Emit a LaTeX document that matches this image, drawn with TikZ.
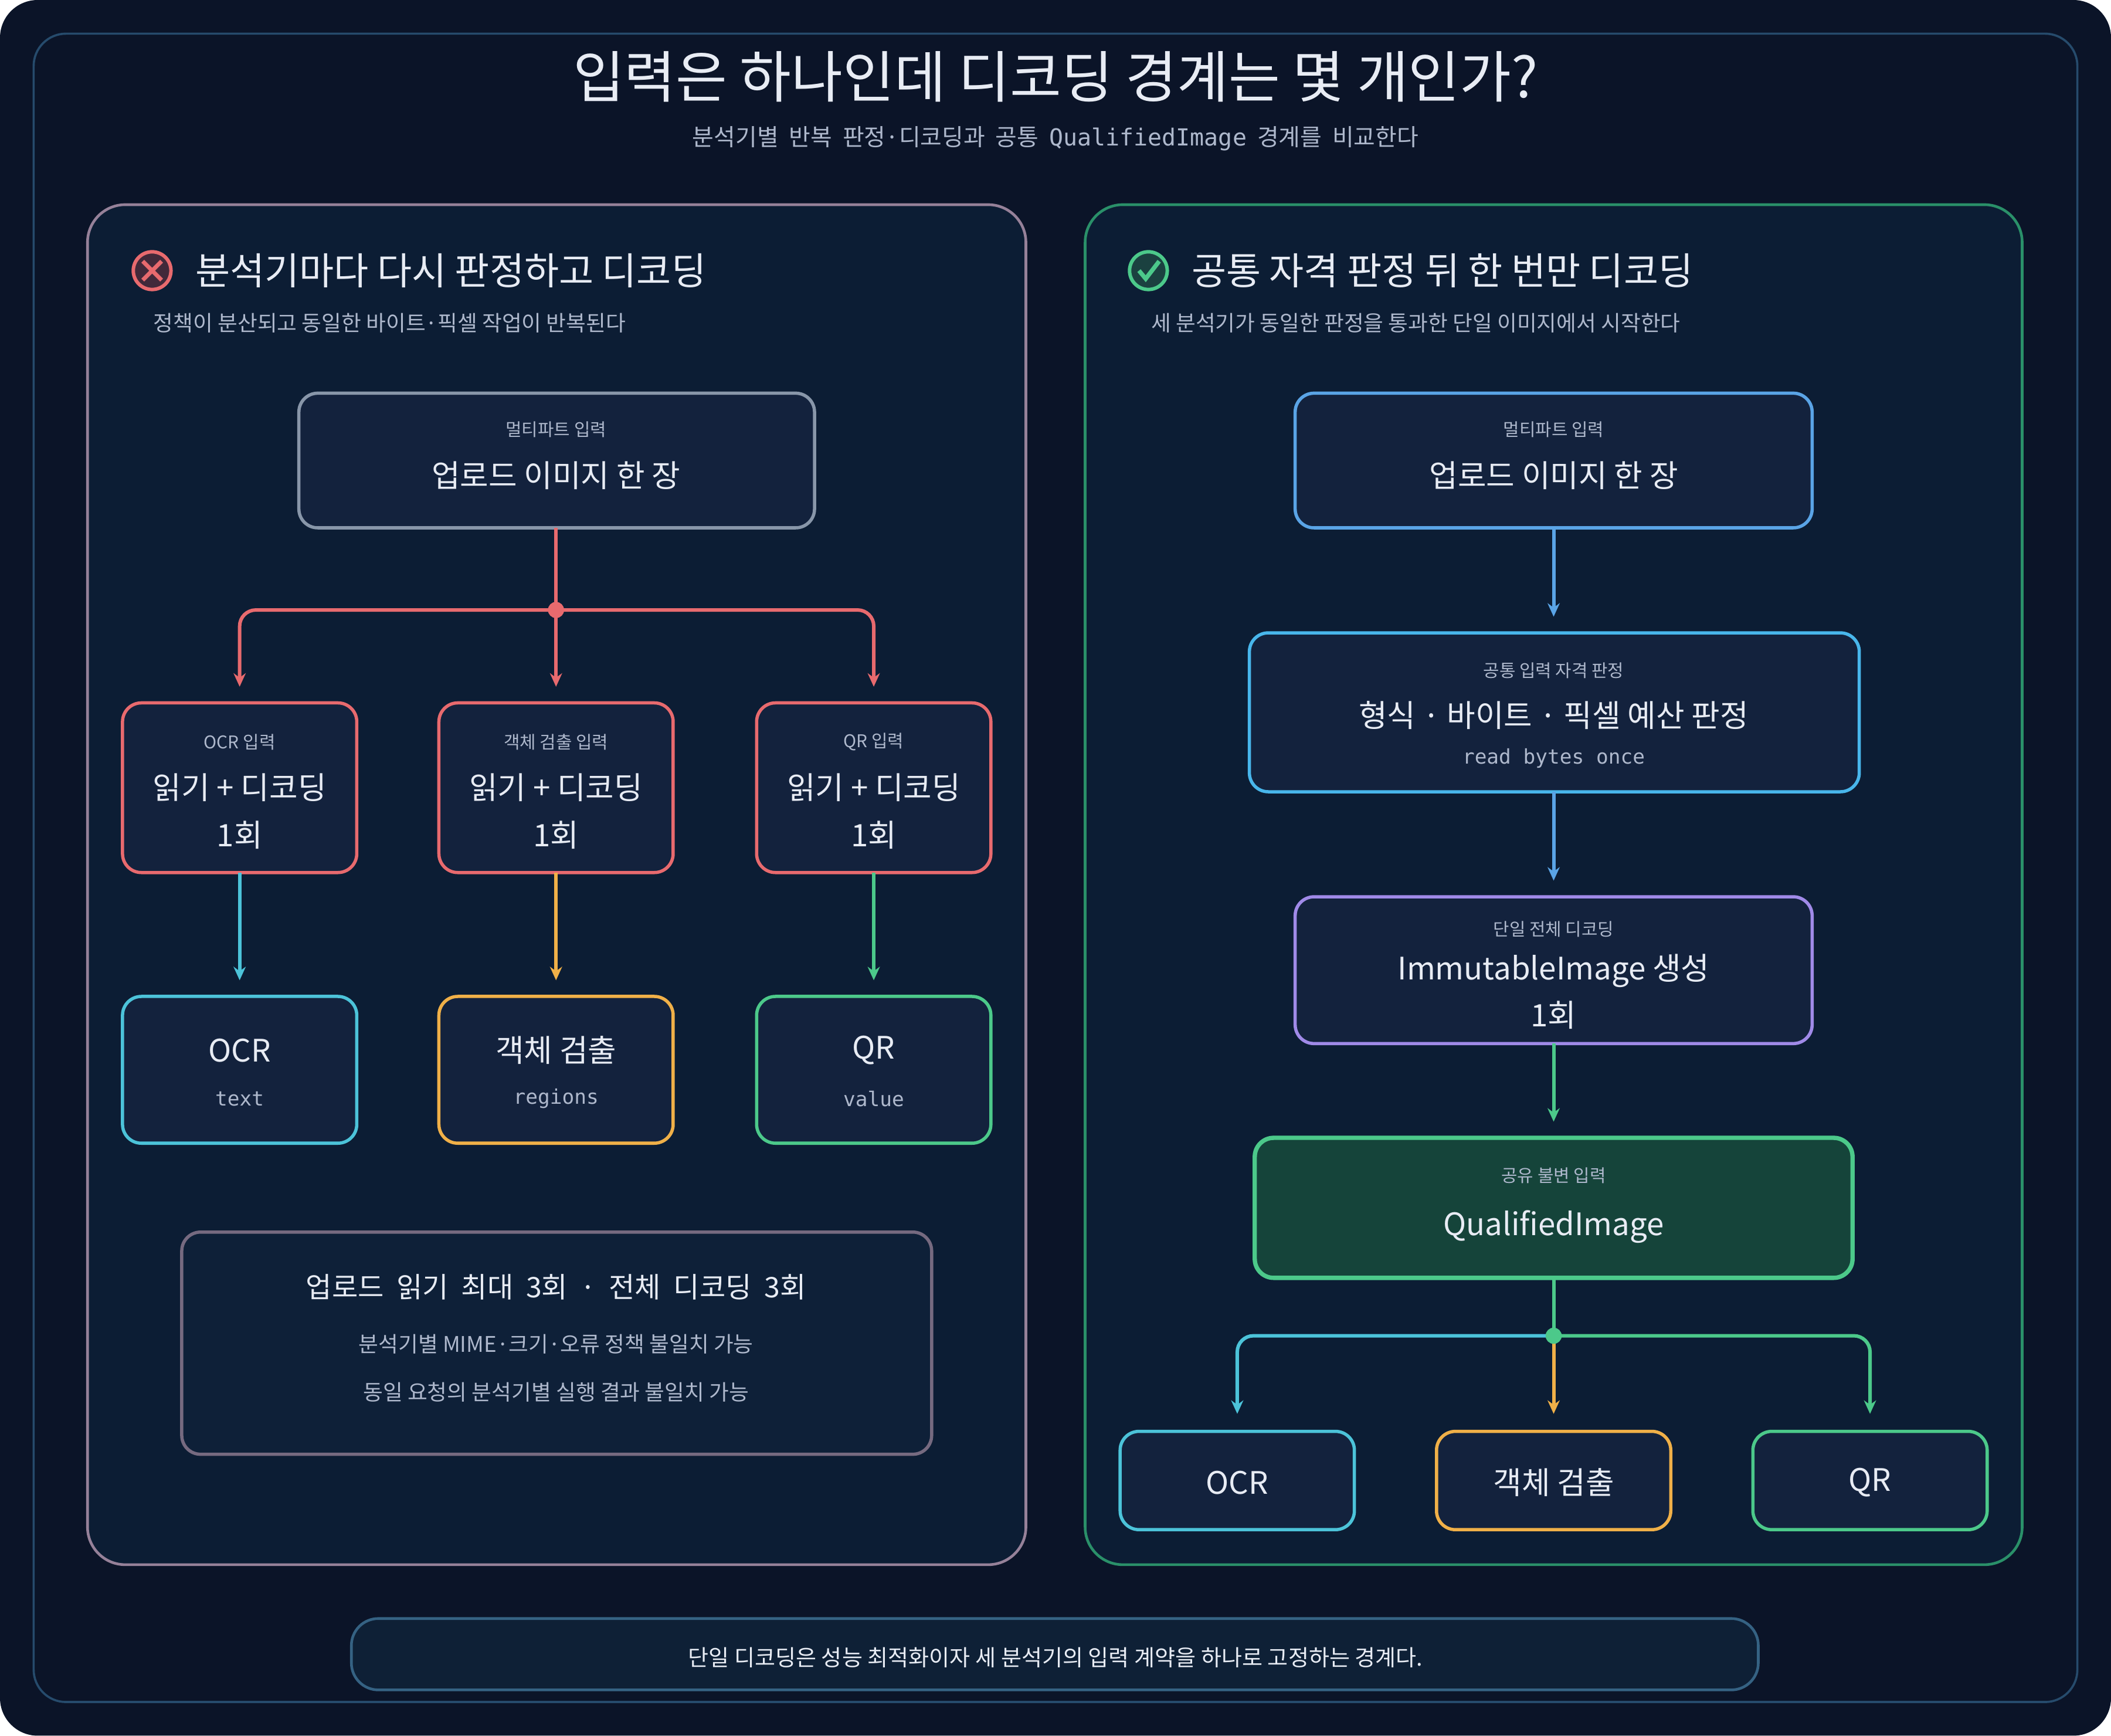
\documentclass[tikz,border=0pt]{standalone}
\usepackage{fontspec}
\setmainfont{Noto Sans CJK KR}
\newfontfamily\monof{DejaVu Sans Mono}
\usetikzlibrary{arrows.meta}
\definecolor{bg}{HTML}{0B1428}
\definecolor{boxf}{HTML}{13223D}
\definecolor{txt}{HTML}{E8ECF4}
\definecolor{sub}{HTML}{AEB8CC}
\definecolor{red}{HTML}{E86A6E}
\definecolor{cy}{HTML}{4CC3D9}
\definecolor{orn}{HTML}{F0B048}
\definecolor{grn}{HTML}{4CC98A}
\definecolor{blu}{HTML}{5AA4E6}
\definecolor{pur}{HTML}{A08AE8}
\begin{document}
\begin{tikzpicture}[x=0.5pt,y=-0.5pt,
 box/.style={draw,line width=1.2pt,rounded corners=7pt,fill=boxf},
 sm/.style={text=sub,font=\fontsize{6.5}{7}\selectfont},
 mn/.style={text=txt,font=\fontsize{11.5}{13}\selectfont},
 mo/.style={text=sub,font=\monof\fontsize{7.5}{9}\selectfont},
 ar/.style={line width=1.3pt,-{Stealth[length=5pt,width=4.5pt]}},
 ln/.style={line width=1.3pt,rounded corners=6pt}]
\useasboundingbox (0,0) rectangle (1568,1289);
\fill[bg,rounded corners=14pt] (0,0) rectangle (1568,1289);
\draw[draw={rgb,255:red,42;green,58;blue,90},line width=0.8pt,rounded corners=12pt] (25,25) rectangle (1543,1264);
\node[text=txt,font=\fontsize{20.8}{23}\selectfont] (title) at (784,57) {입력은 하나인데 디코딩 경계는 몇 개인가?};
\node[text=sub,font=\fontsize{8.7}{10}\selectfont] (subt) at (784,103) {분석기별\ \ 반복\ \ 판정·디코딩과\ \ 공통\ \ {\monof QualifiedImage}\ \ 경계를\ \ 비교한다};
% panels
\draw[draw={rgb,255:red,165;green,60;blue,82},line width=1pt,rounded corners=14pt,fill={rgb,255:red,13;green,24;blue,46}] (65,152) rectangle (762,1162);
\draw[draw={rgb,255:red,46;green,125;blue,85},line width=1pt,rounded corners=14pt,fill={rgb,255:red,13;green,24;blue,46}] (806,152) rectangle (1502,1162);
% left header
\node[circle,draw=red,fill=red!25!bg,line width=1.3pt,minimum size=14pt,inner sep=0] (xic) at (113,201) {};
\draw[red,line width=1.5pt] (106,194) -- (120,208) (120,194) -- (106,208);
\node[anchor=west,text=txt,font=\fontsize{14}{16}\selectfont] (lh) at (138,201) {분석기마다 다시 판정하고 디코딩};
\node[anchor=west,text=sub,font=\fontsize{8}{9}\selectfont] (ls) at (107,240) {정책이 분산되고 동일한 바이트·픽셀 작업이 반복된다};
% right header
\node[circle,draw=grn,fill=grn!25!bg,line width=1.3pt,minimum size=14pt,inner sep=0] (cic) at (853,201) {};
\draw[grn,line width=1.6pt] (846,201) -- (851,207) -- (861,194);
\node[anchor=west,text=txt,font=\fontsize{14}{16}\selectfont] (rh) at (878,201) {공통 자격 판정 뒤 한 번만 디코딩};
\node[anchor=west,text=sub,font=\fontsize{8}{9}\selectfont] (rs) at (848,240) {세 분석기가 동일한 판정을 통과한 단일 이미지에서 시작한다};
% left flow
\draw[box,draw={rgb,255:red,150;green,88;blue,104}] (222,292) rectangle (605,392);
\coordinate (lt) at (413,392);
\node[sm] at (413,319) {멀티파트 입력};
\node[mn] at (413,353) {업로드 이미지 한 장};
\foreach \x/\n/\c/\r/\m in {178/OCR 입력/cy/OCR/text, 413/객체 검출 입력/orn/객체 검출/regions, 649/QR 입력/grn/QR/value}{
  \draw[box,draw=red] (\x-87,522) rectangle (\x+87,648);
  \node[sm] at (\x,551) {\n};
  \node[mn] at (\x,585) {읽기 + 디코딩};
  \node[mn] at (\x,620) {1회};
  \draw[ar,\c] (\x,648) -- (\x,728);
  \draw[box,draw=\c] (\x-87,740) rectangle (\x+87,849);
  \node[mn] at (\x,780) {\r};
  \node[mo] at (\x,816) {\m};
}
\coordinate (lj) at (413,453);
\draw[ln,red] (lt) -- (lj);
\draw[ln,red,-{Stealth[length=5pt,width=4.5pt]}] (lj) -- (178,453) -- (178,510);
\draw[ln,red,-{Stealth[length=5pt,width=4.5pt]}] (lj) -- (649,453) -- (649,510);
\draw[ar,red] (lj) -- (413,510);
\fill[red] (lj) circle (6);
\draw[box,draw={rgb,255:red,130;green,52;blue,72},fill={rgb,255:red,15;green,26;blue,50}] (135,915) rectangle (692,1080);
\node[mn,font=\fontsize{10.5}{12}\selectfont] (s1) at (413,956) {업로드\ \ 읽기\ \ 최대\ \ 3회\ \ ·\ \ 전체\ \ 디코딩\ \ 3회};
\node[text=sub,font=\fontsize{8}{9}\selectfont] (s2) at (413,998) {분석기별 MIME·크기·오류 정책 불일치 가능};
\node[text=sub,font=\fontsize{8}{9}\selectfont] (s3) at (413,1034) {동일 요청의 분석기별 실행 결과 불일치 가능};
% right flow
\draw[box,draw=blu] (962,292) rectangle (1346,392);
\node[sm] at (1154,319) {멀티파트 입력};
\node[mn] at (1154,353) {업로드 이미지 한 장};
\draw[ar,blu] (1154,392) -- (1154,458);
\draw[box,draw=blu!80!cyan] (928,470) rectangle (1381,588);
\node[sm] at (1154,498) {공통 입력 자격 판정};
\node[mn] at (1154,531) {형식 · 바이트 · 픽셀 예산 판정};
\node[mo] at (1154,563) {read bytes once};
\draw[ar,blu] (1154,588) -- (1154,654);
\draw[box,draw=pur] (962,666) rectangle (1346,775);
\node[sm] at (1154,690) {단일 전체 디코딩};
\node[mn] at (1154,721) {ImmutableImage 생성};
\node[mn] at (1154,754) {1회};
\draw[ar,grn] (1154,775) -- (1154,833);
\draw[box,draw=grn,line width=1.6pt,fill={rgb,255:red,23;green,58;blue,48}] (932,845) rectangle (1376,949);
\node[sm] at (1154,873) {공유 불변 입력};
\node[mn] at (1154,911) {QualifiedImage};
\coordinate (rj) at (1154,992);
\draw[ln,grn] (1154,949) -- (rj);
\draw[ln,cy,-{Stealth[length=5pt,width=4.5pt]}] (rj) -- (919,992) -- (919,1050);
\draw[ln,grn,-{Stealth[length=5pt,width=4.5pt]}] (rj) -- (1389,992) -- (1389,1050);
\draw[ar,orn] (rj) -- (1154,1050);
\fill[grn] (rj) circle (6);
\foreach \x/\c/\r in {919/cy/OCR, 1154/orn/객체 검출, 1389/grn/QR}{
  \draw[box,draw=\c] (\x-87,1063) rectangle (\x+87,1136);
  \node[mn] at (\x,1101) {\r};
}
% footer
\draw[draw={rgb,255:red,58;green,74;blue,106},line width=1pt,rounded corners=10pt,fill={rgb,255:red,15;green,26;blue,48}] (261,1202) rectangle (1306,1255);
\node[text=txt,font=\fontsize{8.3}{10}\selectfont] (ft) at (784,1231) {단일 디코딩은 성능 최적화이자 세 분석기의 입력 계약을 하나로 고정하는 경계다.};
\end{tikzpicture}
\end{document}
